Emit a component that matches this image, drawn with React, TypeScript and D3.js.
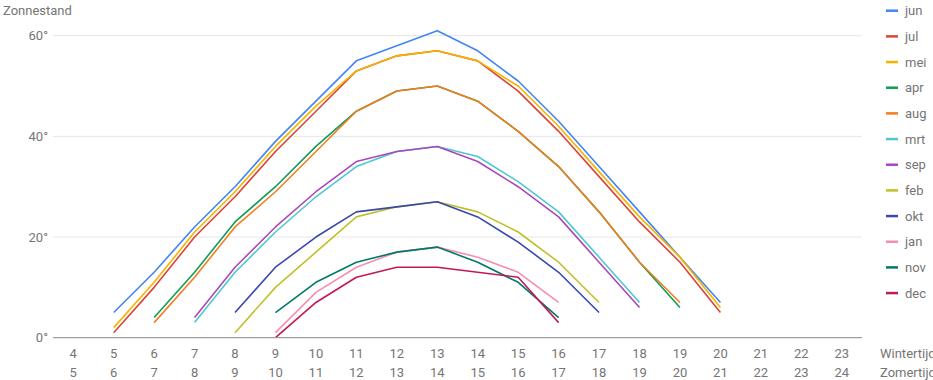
import React from "react";
import * as d3 from "d3";

// Wintertijd hours (x categories) and Zomertijd labels
const winterHours = [4, 5, 6, 7, 8, 9, 10, 11, 12, 13, 14, 15, 16, 17, 18, 19, 20, 21, 22, 23];
const summerHours = [5, 6, 7, 8, 9, 10, 11, 12, 13, 14, 15, 16, 17, 18, 19, 20, 21, 22, 23, 24];
const yTicks = [0, 20, 40, 60];

// Sun altitude per month, indexed by winter hour (4..23); null = below horizon
const N = null;
const jun = [N, 5, 13, 22, 30, 39, 47, 55, 58, 61, 57, 51, 43, 34, 25, 16, 7, N, N, N];
const jul = [N, 1, 10, 20, 28, 37, 45, 53, 56, 57, 55, 49, 41, 32, 23, 15, 5, N, N, N];
const mei = [N, 2, 11, 21, 29, 38, 46, 53, 56, 57, 55, 50, 42, 33, 24, 16, 6, N, N, N];
const apr = [N, N, 4, 13, 23, 30, 38, 45, 49, 50, 47, 41, 34, 25, 15, 6, N, N, N, N];
const aug = [N, N, 3, 12, 22, 29, 37, 45, 49, 50, 47, 41, 34, 25, 15, 7, N, N, N, N];
const mrt = [N, N, N, 3, 13, 21, 28, 34, 37, 38, 36, 31, 25, 16, 7, N, N, N, N, N];
const sep = [N, N, N, 4, 14, 22, 29, 35, 37, 38, 35, 30, 24, 15, 6, N, N, N, N, N];
const feb = [N, N, N, N, 1, 10, 17, 24, 26, 27, 25, 21, 15, 7, N, N, N, N, N, N];
const okt = [N, N, N, N, 5, 14, 20, 25, 26, 27, 24, 19, 13, 5, N, N, N, N, N, N];
const jan = [N, N, N, N, N, 1, 9, 14, 17, 18, 16, 13, 7, N, N, N, N, N, N, N];
const nov = [N, N, N, N, N, 5, 11, 15, 17, 18, 15, 11, 4, N, N, N, N, N, N, N];
const dec = [N, N, N, N, N, 0, 7, 12, 14, 14, 13, 12, 3, N, N, N, N, N, N, N];

const seriesNames = ["jun", "jul", "mei", "apr", "aug", "mrt", "sep", "feb", "okt", "jan", "nov", "dec"];
const seriesValues = [jun, jul, mei, apr, aug, mrt, sep, feb, okt, jan, nov, dec];
const seriesColors = [
  "#4285F4", "#DB4437", "#F4B400", "#0F9D58", "#F57C1F", "#4DC8CE",
  "#AB47BC", "#C0C12A", "#3949AB", "#F48FB1", "#00796B", "#C2185B",
];

const W = 933;
const H = 380;
const FONT = "Roboto, 'Noto Sans', sans-serif";
const TEXT = "#757575";

export default function App() {
  const x = d3
    .scalePoint<number>()
    .domain(winterHours)
    .range([53, 862])
    .padding(0.5);
  const y = d3.scaleLinear().domain([0, 60]).range([337.7, 35.7]);

  const line = d3
    .line<number | null>()
    .defined((d) => d !== null)
    .x((_, i) => x(winterHours[i]) as number)
    .y((d) => y(d as number));

  const legendTop = 10.7;
  const legendStep = 25.67;

  return (
    <svg
      width={W}
      height={H}
      style={{ position: "absolute", left: 0, top: 0, background: "#fff" }}
      fontFamily={FONT}
    >
      <rect x={0} y={0} width={W} height={H} fill="#fff" />
      <text x={3} y={15} fontSize={13} fill={TEXT}>
        Zonnestand
      </text>
      {yTicks.map((t) => (
        <g key={t}>
          {t !== 0 && (
            <line x1={53} x2={862} y1={y(t)} y2={y(t)} stroke="#e6e6e6" strokeWidth={1} />
          )}
          <text x={48} y={y(t) + 4.5} fontSize={13} fill={TEXT} textAnchor="end">
            {t}°
          </text>
        </g>
      ))}
      {seriesValues.map((vals, i) => (
        <path
          key={seriesNames[i]}
          d={line(vals) || ""}
          fill="none"
          stroke={seriesColors[i]}
          strokeWidth={1.6}
          strokeLinejoin="round"
        />
      ))}
      <line x1={53} x2={862} y1={y(0)} y2={y(0)} stroke="#9e9e9e" strokeWidth={1.3} />
      {winterHours.map((h, i) => (
        <g key={h}>
          <text x={x(h)} y={358} fontSize={13} fill={TEXT} textAnchor="middle">
            {h}
          </text>
          <text x={x(h)} y={377} fontSize={13} fill={TEXT} textAnchor="middle">
            {summerHours[i]}
          </text>
        </g>
      ))}
      <text x={880} y={358} fontSize={13} fill={TEXT}>
        Wintertijd
      </text>
      <text x={880} y={377} fontSize={13} fill={TEXT}>
        Zomertijd
      </text>
      {seriesNames.map((name, i) => {
        const cy = legendTop + i * legendStep;
        return (
          <g key={name}>
            <line x1={886} x2={898} y1={cy} y2={cy} stroke={seriesColors[i]} strokeWidth={2.5} />
            <text x={905} y={cy + 4.5} fontSize={13} fill={TEXT}>
              {name}
            </text>
          </g>
        );
      })}
    </svg>
  );
}
